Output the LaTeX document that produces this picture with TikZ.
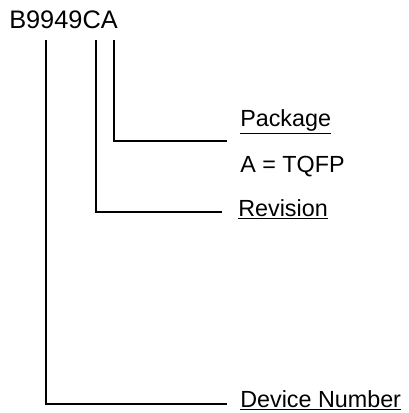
\documentclass[tikz,border=0pt]{standalone}
\usepackage{fontspec}
\setmainfont{Liberation Sans}
\usetikzlibrary{positioning}

\begin{document}
\begin{tikzpicture}[
    x=0.75pt, y=-0.75pt,
    lead/.style={draw=black, line width=1.5pt},
    field/.style={anchor=base west, inner sep=0pt, font=\fontsize{17.5}{21}\selectfont}
]
    \useasboundingbox (0,0) rectangle (409,413);

    % Part number
    \node[anchor=base west, inner sep=0pt, font=\fontsize{19}{23}\selectfont] (part) at (9,29) {B9949CA};

    % Field labels
    \node[field] (pkg) at (240,127) {\underline{Package}};
    \node[field] (pkgval) at (240,172) {A = TQFP};
    \node[field] (rev) at (238,216) {\underline{Revision}};
    \node[field] (dev) at (240,407) {\underline{Device Number}};

    % Taps under the part number
    \coordinate (tapdev) at (46,40);
    \coordinate (taprev) at (96,40);
    \coordinate (tappkg) at (114,40);

    % Ends of the leaders
    \coordinate (pkgend) at (227,141);
    \coordinate (revend) at (222,212);
    \coordinate (devend) at (227,404);

    % Leader lines
    \draw[lead] (tappkg) |- (pkgend);
    \draw[lead] (taprev) |- (revend);
    \draw[lead] (tapdev) |- (devend);
\end{tikzpicture}
\end{document}
